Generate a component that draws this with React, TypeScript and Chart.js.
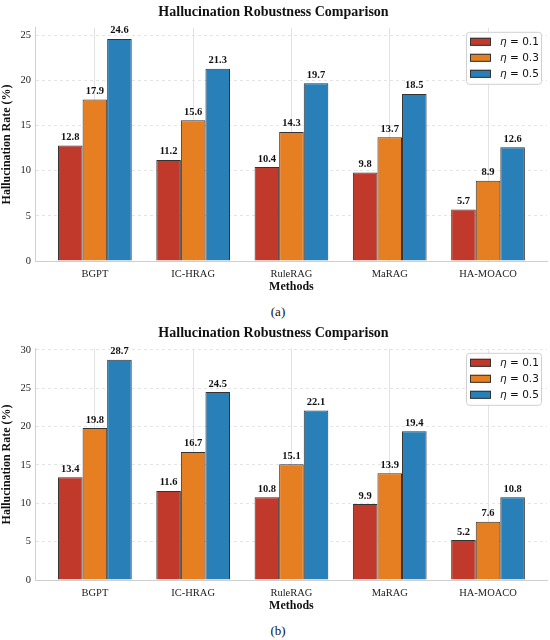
import { useEffect, useRef } from 'react';
import { Chart, registerables, Plugin } from 'chart.js';

Chart.register(...registerables);

const methods = ['BGPT', 'IC-HRAG', 'RuleRAG', 'MaRAG', 'HA-MOACO'];
const etaLabels = ['η = 0.1', 'η = 0.3', 'η = 0.5'];
const barColors = ['#c0392b', '#e67e22', '#2980b9'];

// panel (a)
const rateA01 = [12.8, 11.2, 10.4, 9.8, 5.7];
const rateA03 = [17.9, 15.6, 14.3, 13.7, 8.9];
const rateA05 = [24.6, 21.3, 19.7, 18.5, 12.6];

// panel (b)
const rateB01 = [13.4, 11.6, 10.8, 9.9, 5.2];
const rateB03 = [19.8, 16.7, 15.1, 13.9, 7.6];
const rateB05 = [28.7, 24.5, 22.1, 19.4, 10.8];

const SERIF = '"Liberation Serif", "Times New Roman", serif';
const SANS = '"DejaVu Sans", sans-serif';

const valueLabels: Plugin<'bar'> = {
  id: 'valueLabels',
  afterDatasetsDraw(chart) {
    const ctx = chart.ctx;
    ctx.save();
    ctx.font = `bold 10.5px ${SERIF}`;
    ctx.fillStyle = '#111';
    ctx.textAlign = 'center';
    ctx.textBaseline = 'bottom';
    chart.data.datasets.forEach((ds, di) => {
      const meta = chart.getDatasetMeta(di);
      meta.data.forEach((el: any, i) => {
        const v = (ds.data[i] as any).y as number;
        ctx.fillText(v.toFixed(1), el.x, el.y - 3);
      });
    });
    ctx.restore();
  },
};

const boxLegend: Plugin<'bar'> = {
  id: 'boxLegend',
  afterDraw(chart) {
    const ctx = chart.ctx;
    const area = chart.chartArea;
    const w = 75;
    const h = 52;
    const x = area.right - w - 6;
    const y = area.top + 4;
    ctx.save();
    ctx.fillStyle = 'rgba(255,255,255,0.9)';
    ctx.strokeStyle = '#d0d0d0';
    ctx.lineWidth = 1;
    ctx.beginPath();
    ctx.roundRect(x + 0.5, y + 0.5, w, h, 3);
    ctx.fill();
    ctx.stroke();
    chart.data.datasets.forEach((ds, i) => {
      const ry = y + 10 + i * 16;
      ctx.fillStyle = ds.backgroundColor as string;
      ctx.strokeStyle = '#333';
      ctx.fillRect(x + 4, ry - 4, 21, 8);
      ctx.strokeRect(x + 4.5, ry - 3.5, 20, 7);
      const label = String(ds.label);
      ctx.fillStyle = '#111';
      ctx.textBaseline = 'middle';
      ctx.textAlign = 'left';
      ctx.font = `italic 10.5px ${SANS}`;
      const first = label.slice(0, 1);
      ctx.fillText(first, x + 34, ry);
      const fw = ctx.measureText(first).width;
      ctx.font = `10.5px ${SANS}`;
      ctx.fillText(label.slice(1), x + 34 + fw, ry);
    });
    ctx.restore();
  },
};

interface PanelProps {
  series: number[][];
  yMax: number;
  height: number;
}

const RobustnessPanel = ({ series, yMax, height }: PanelProps) => {
  const canvasRef = useRef<HTMLCanvasElement>(null);

  useEffect(() => {
    if (!canvasRef.current) return;
    const chart = new Chart(canvasRef.current, {
      type: 'bar',
      data: {
        datasets: series.map((vals, si) => ({
          label: etaLabels[si],
          data: vals.map((v, i) => ({ x: i, y: v })),
          backgroundColor: barColors[si],
          borderColor: '#333',
          borderWidth: 1,
          categoryPercentage: 0.75,
          barPercentage: 1.0,
        })),
      },
      options: {
        animation: false,
        responsive: true,
        maintainAspectRatio: false,
        layout: { padding: { left: 0, right: 3, top: 0, bottom: 0 } },
        plugins: {
          legend: { display: false },
          tooltip: { enabled: false },
          title: {
            display: true,
            text: 'Hallucination Robustness Comparison',
            color: '#111',
            font: { family: SERIF, size: 14, weight: 'bold' },
            padding: { top: 4, bottom: 7 },
          },
        },
        scales: {
          x: {
            type: 'linear',
            min: -0.6,
            max: 4.6,
            offset: false,
            grid: { color: '#e2e2e2', lineWidth: 1, drawTicks: false, offset: false },
            border: { color: '#cfcfcf' },
            ticks: {
              stepSize: 1,
              includeBounds: false,
              autoSkip: false,
              maxRotation: 0,
              padding: 7,
              color: '#222',
              font: { family: SERIF, size: 10.5 },
              callback: (v) => methods[Number(v)] ?? '',
            },
            title: {
              display: true,
              text: 'Methods',
              color: '#111',
              font: { family: SERIF, size: 12, weight: 'bold' },
              padding: { top: -8, bottom: 2 },
            },
          },
          y: {
            min: 0,
            max: yMax,
            grid: { color: '#e4e4e4', lineWidth: 1, drawTicks: false },
            border: { color: '#cfcfcf', dash: [3, 3] },
            ticks: {
              stepSize: 5,
              includeBounds: false,
              padding: 5,
              color: '#222',
              font: { family: SERIF, size: 10.5 },
            },
            title: {
              display: true,
              text: 'Hallucination Rate (%)',
              color: '#111',
              font: { family: SERIF, size: 12, weight: 'bold' },
              padding: { top: 0, bottom: 1 },
            },
          },
        },
      },
      plugins: [valueLabels, boxLegend],
    });
    return () => chart.destroy();
  }, [series, yMax]);

  return (
    <div style={{ position: 'relative', width: 550, height }}>
      <canvas ref={canvasRef} />
    </div>
  );
};

const Caption = ({ text, height }: { text: string; height: number }) => (
  <div
    style={{
      height,
      lineHeight: `${height}px`,
      position: 'relative',
      top: 3,
      textAlign: 'center',
      fontFamily: SERIF,
      fontSize: 13,
      color: '#111',
      paddingLeft: 6,
    }}
  >
    {text}
  </div>
);

export default function App() {
  useEffect(() => {
    document.body.style.margin = '0';
    document.body.style.background = '#fff';
  }, []);
  return (
    <div style={{ width: 550, height: 640, background: '#fff' }}>
      <RobustnessPanel series={[rateA01, rateA03, rateA05]} yMax={25.83} height={296} />
      <Caption text="(a)" height={25} />
      <RobustnessPanel series={[rateB01, rateB03, rateB05]} yMax={30.14} height={294} />
      <Caption text="(b)" height={25} />
    </div>
  );
}
